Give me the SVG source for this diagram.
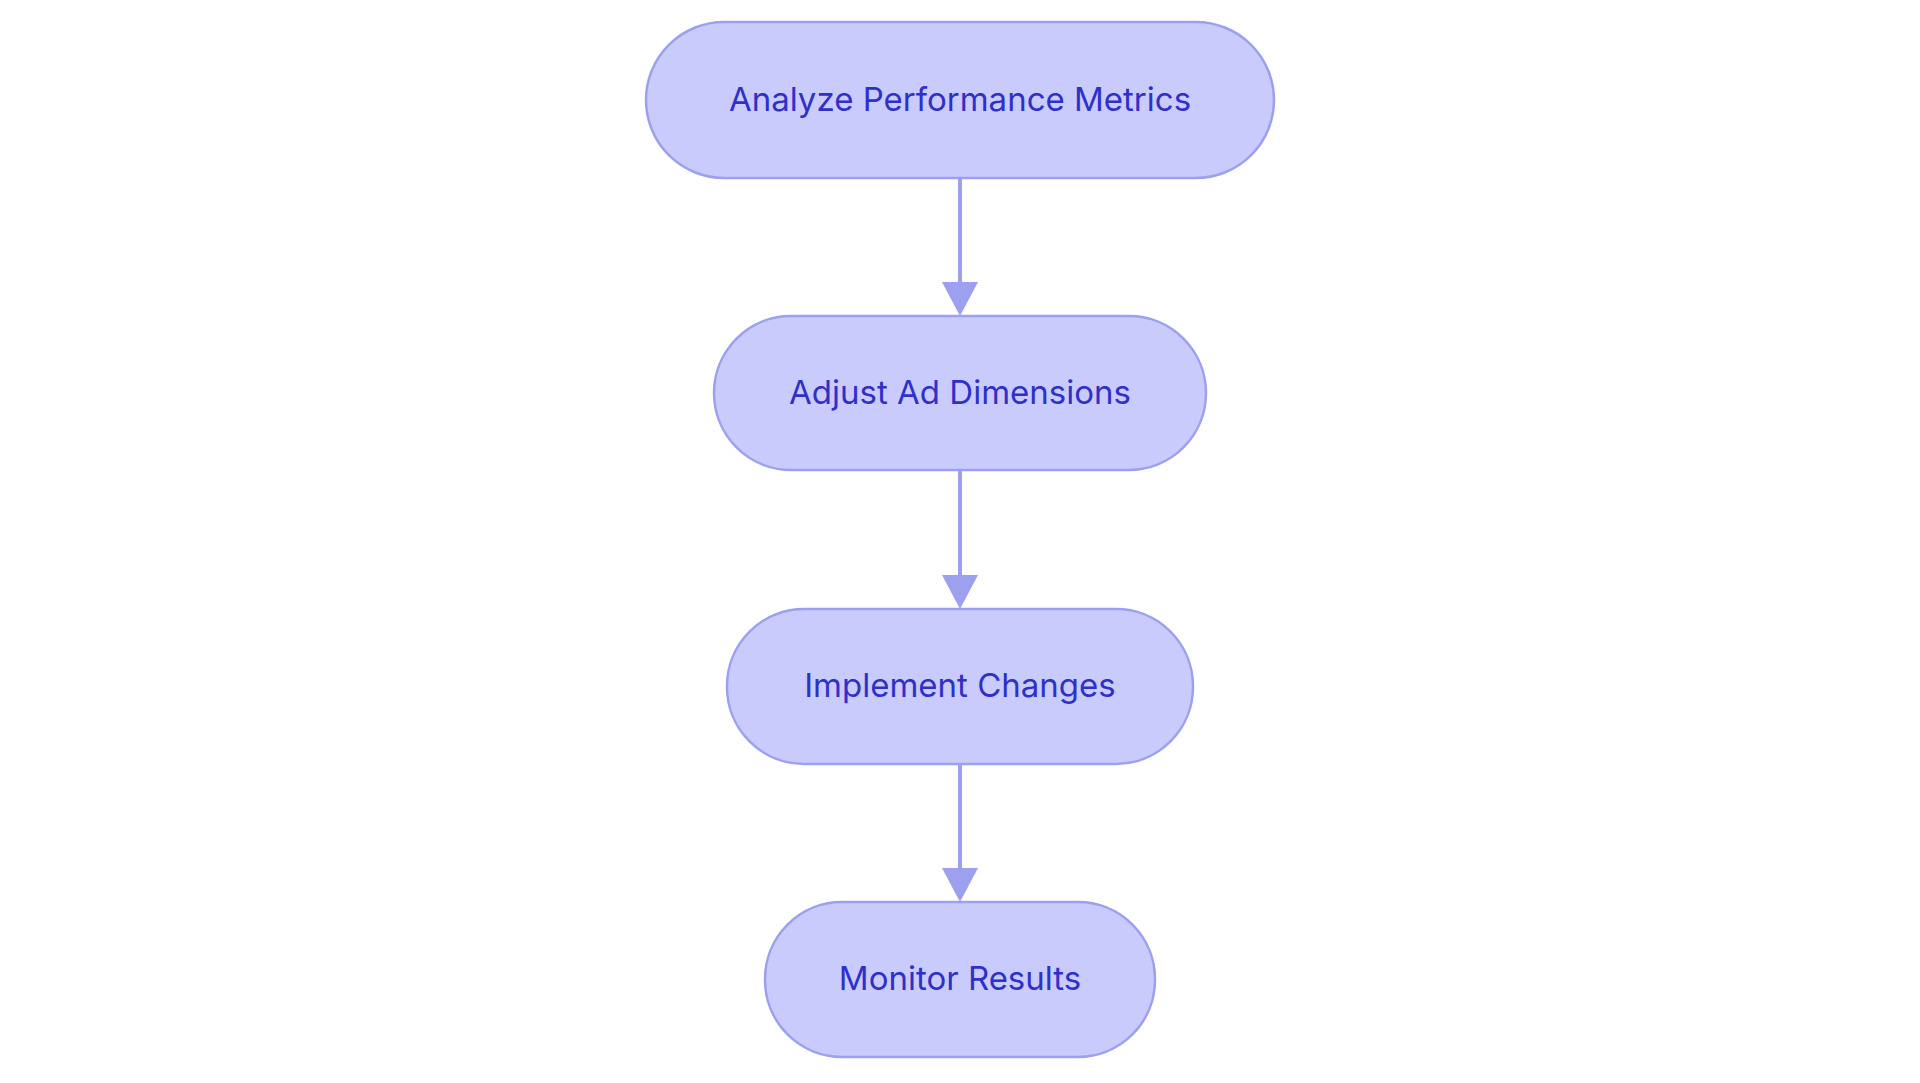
<svg xmlns="http://www.w3.org/2000/svg" width="1920" height="1083" viewBox="0 0 1920 1083">
<style>
.n{fill:#cacbfd;stroke:#9ca0ef;stroke-width:2.5}
.t{font-family:Inter,"Noto Sans",sans-serif;font-size:33px;fill:#2f30c8;text-anchor:middle;dominant-baseline:central}
.e{stroke:#9ca0ef;stroke-width:4;fill:none}
</style>
<defs><marker id="a" markerWidth="8" markerHeight="8" refX="7" refY="4" orient="auto" markerUnits="userSpaceOnUse" viewBox="0 0 8 8"><path d="M0,0L8,4L0,8z" fill="#9ca0ef"/></marker></defs>
<rect width="1920" height="1083" fill="#fff"/>
<g id="edges">
<line class="e" x1="960" y1="178" x2="960" y2="285"/><path d="M942,282L978,282L960,316z" fill="#9ca0ef"/>
<line class="e" x1="960" y1="470" x2="960" y2="578"/><path d="M942,575L978,575L960,609z" fill="#9ca0ef"/>
<line class="e" x1="960" y1="764" x2="960" y2="871"/><path d="M942,868L978,868L960,902z" fill="#9ca0ef"/>
</g>
<g id="n1"><rect class="n" x="646" y="22" width="628" height="156" rx="78"/><text class="t" x="960" y="99">Analyze Performance Metrics</text></g>
<g id="n2"><rect class="n" x="714" y="316" width="492" height="154" rx="77"/><text class="t" x="960" y="392">Adjust Ad Dimensions</text></g>
<g id="n3"><rect class="n" x="727" y="609" width="466" height="155" rx="77"/><text class="t" x="960" y="685">Implement Changes</text></g>
<g id="n4"><rect class="n" x="765" y="902" width="390" height="155" rx="77"/><text class="t" x="960" y="978">Monitor Results</text></g>
</svg>
